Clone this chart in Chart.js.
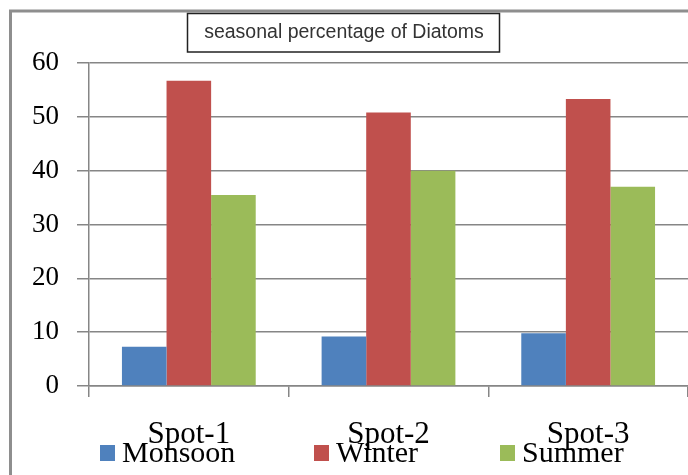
<!DOCTYPE html>
<html>
<head>
<meta charset="utf-8">
<script src="https://cdn.jsdelivr.net/npm/chart.js@4"></script>
<style>
  html, body { margin: 0; padding: 0; background: #fff; overflow: hidden; }
  #wrap { width: 688px; height: 475px; position: relative; }
</style>
</head>
<body>
<div id="wrap"><canvas id="c" width="688" height="475"></canvas></div>
<script>
const categories = ['Spot-1', 'Spot-2', 'Spot-3'];
const monsoon = [7.3, 9.2, 9.8];
const winter = [56.7, 50.8, 53.3];
const summer = [35.5, 40.0, 37.0];
const yTicks = [0, 10, 20, 30, 40, 50, 60];
const titleText = 'seasonal percentage of Diatoms';

const GRID = '#868686';

const framePlugin = {
  id: 'frame',
  afterDraw(chart) {
    const ctx = chart.ctx;
    ctx.save();
    // outer frame (top and left visible)
    ctx.strokeStyle = '#8e8e8e';
    ctx.lineWidth = 3;
    ctx.strokeRect(10.5, 11, chart.width + 20, chart.height + 20);
    // title box
    const tb = chart.titleBlock;
    const f = chart.options.plugins.title.font;
    ctx.font = f.size + 'px ' + f.family;
    const w = ctx.measureText(titleText).width;
    const cx = (tb.left + tb.right) / 2;
    ctx.strokeStyle = '#222';
    ctx.lineWidth = 1.5;
    ctx.strokeRect(Math.round(cx - w / 2 - 17.5) + 0.5, 13.5, Math.round(w + 32), 38.5);
    // legend
    const lg = chart.options.plugins.customLegend;
    ctx.font = lg.fontSize + 'px ' + lg.family;
    ctx.textBaseline = 'alphabetic';
    ctx.textAlign = 'left';
    chart.data.datasets.forEach((ds, i) => {
      const x = lg.x[i];
      ctx.fillStyle = ds.backgroundColor;
      ctx.fillRect(x, lg.boxTop, lg.boxW, lg.boxH);
      ctx.fillStyle = '#000';
      ctx.fillText(ds.label, x + lg.gap, lg.baseline);
    });
    ctx.restore();
  }
};

new Chart(document.getElementById('c'), {
  type: 'bar',
  data: {
    labels: categories,
    datasets: [
      { label: 'Monsoon', data: monsoon, backgroundColor: '#4F81BD' },
      { label: 'Winter', data: winter, backgroundColor: '#C0504D' },
      { label: 'Summer', data: summer, backgroundColor: '#9BBB59' }
    ]
  },
  options: {
    responsive: false,
    animation: false,
    layout: { padding: { left: -4, right: -4, top: 0, bottom: 0 } },
    datasets: { bar: { categoryPercentage: 0.67, barPercentage: 1.0 } },
    plugins: {
      legend: { display: false },
      tooltip: { enabled: false },
      title: {
        display: true,
        text: titleText,
        color: '#333',
        font: { family: "'Liberation Sans', Arial, sans-serif", size: 19.5, weight: 'normal' },
        padding: { top: 21, bottom: 18.6 }
      },
      customLegend: {
        x: [100, 314, 500],
        boxTop: 445, boxW: 15, boxH: 16, gap: 22, baseline: 462,
        fontSize: 30, family: "'Liberation Serif', 'Times New Roman', serif"
      }
    },
    scales: {
      x: {
        grid: { drawOnChartArea: false, drawTicks: true, tickLength: 11, color: GRID, lineWidth: 1.5, offset: true },
        border: { display: true, color: GRID, width: 1.5 },
        ticks: {
          color: '#000',
          padding: 19,
          font: { family: "'Liberation Serif', 'Times New Roman', serif", size: 31 },
          maxRotation: 0
        },
        afterFit(scale) { scale.height = 89; }
      },
      y: {
        min: 0,
        max: 60,
        afterBuildTicks(scale) { scale.ticks = yTicks.map(v => ({ value: v })); },
        grid: { color: GRID, lineWidth: 1.5, tickLength: 12, drawTicks: true },
        border: { display: true, color: GRID, width: 1.5 },
        ticks: {
          color: '#000',
          padding: 18,
          font: { family: "'Liberation Serif', 'Times New Roman', serif", size: 27 }
        },
        afterFit(scale) { scale.width = 93; }
      }
    }
  },
  plugins: [framePlugin]
});
</script>
</body>
</html>
